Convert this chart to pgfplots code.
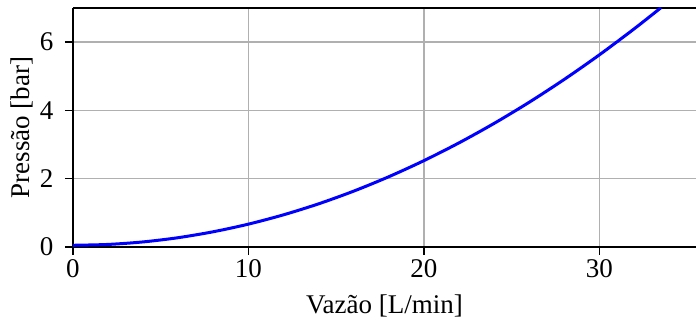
\documentclass[border=0pt]{standalone}
\usepackage{pgfplots}
\pgfplotsset{compat=1.18}
\usepackage{fontspec}
\setmainfont{Liberation Serif}
\begin{document}
\begin{tikzpicture}
\begin{axis}[
  scale only axis,
  width=623bp, height=239bp,
  xmin=0, xmax=35.5, ymin=0, ymax=7,
  xtick={0,10,20,30}, ytick={0,2,4,6},
  axis x line=box, axis y line=left,
  xtick pos=bottom,
  axis line style={-, line width=1.6bp, black},
  tick align=outside,
  tick style={black, line width=1.4bp},
  major tick length=8bp,
  grid=major,
  major grid style={color={rgb,255:red,176;green,176;blue,176}, line width=1.5bp},
  /pgf/number format/assume math mode=true,
  tick label style={font=\fontsize{27bp}{32bp}\selectfont},
  xticklabel style={yshift=-1bp},
  yticklabel style={xshift=-8bp},
  label style={font=\fontsize{27bp}{32bp}\selectfont},
  xlabel={Vazão [L/min]},
  ylabel={Pressão [bar]},
  xlabel style={at={(axis description cs:0.5,0)}, anchor=north, yshift=-44bp},
  ylabel style={at={(axis description cs:0,0.5)}, anchor=south, yshift=36bp},
  clip=true,
]
\addplot[blue, line width=3bp, smooth] coordinates {
(0,0.05) (2,0.075) (4,0.149) (6,0.273) (8,0.447) (10,0.67) (12,0.943)
(14,1.265) (16,1.637) (18,2.059) (20,2.53) (22,3.051) (24,3.621)
(26,4.241) (28,4.911) (30,5.63) (32,6.399) (33.5,7.008)
};
\end{axis}
\pgfresetboundingbox
\path ([shift={(-73bp,-77bp)}]current axis.south west) rectangle ([shift={(0bp,8bp)}]current axis.north east);
\end{tikzpicture}
\end{document}
